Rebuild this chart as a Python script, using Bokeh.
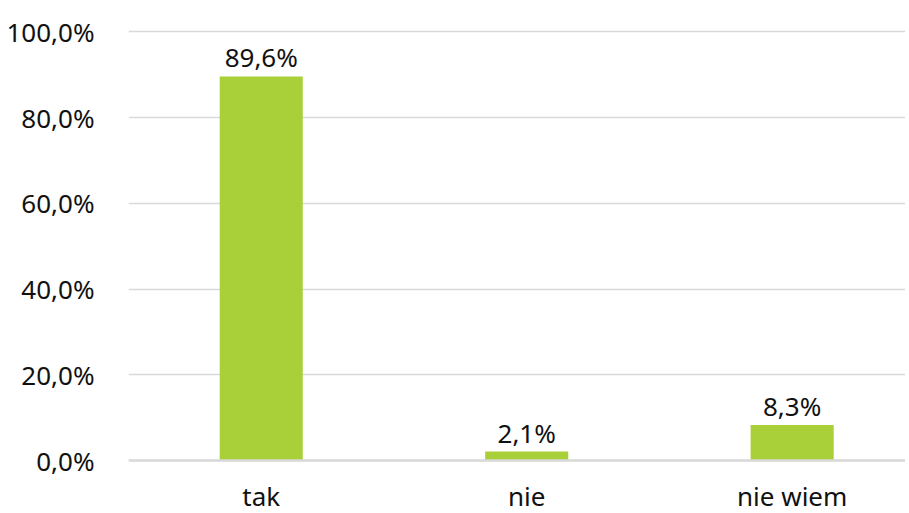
from bokeh.plotting import figure
from bokeh.models import Range1d, FixedTicker, ColumnDataSource
from bokeh.embed import file_html
from bokeh.resources import INLINE
from bokeh.core.properties import value

categories = ["tak", "nie", "nie wiem"]
values = [89.6, 2.1, 8.3]
labels = ["89,6%", "2,1%", "8,3%"]
y_ticks = [0, 20, 40, 60, 80, 100]
y_tick_labels = ["0,0%", "20,0%", "40,0%", "60,0%", "80,0%", "100,0%"]

FONT = "Noto Sans"
FS = "26px"
TXT = "#111111"

xs = list(range(len(categories)))
src = ColumnDataSource(dict(x=xs, top=values, label=labels,
                            cat=categories, base=[0] * len(xs)))

p = figure(width=905, height=513, output_backend="svg", toolbar_location=None,
           x_range=Range1d(-0.5, 2.427), y_range=Range1d(-12.35, 101),
           min_border_left=128, min_border_right=0, min_border_top=27, min_border_bottom=0)
p.outline_line_color = None
p.background_fill_color = "white"
p.border_fill_color = "white"

p.vbar(x="x", top="top", width=0.313, bottom=0, source=src,
       fill_color="#A9D039", line_color=None)
# value labels above bars
p.text(x="x", y="top", text="label", source=src, text_align="center",
       text_baseline="bottom", y_offset=-1, text_font=value(FONT),
       text_font_size=FS, text_color=TXT)
# category labels below the baseline
p.text(x="x", y="base", text="cat", source=src, text_align="center",
       text_baseline="top", y_offset=17, text_font=value(FONT),
       text_font_size=FS, text_color=TXT)

p.xgrid.grid_line_color = None
p.ygrid.grid_line_color = "#d9d9d9"
p.ygrid.grid_line_width = 1.5
p.ygrid.ticker = FixedTicker(ticks=y_ticks)

p.yaxis.ticker = FixedTicker(ticks=y_ticks)
p.yaxis.major_label_overrides = {t: l for t, l in zip(y_ticks, y_tick_labels)}
p.yaxis.axis_line_color = None
p.yaxis.major_tick_line_color = None
p.yaxis.minor_tick_line_color = None
p.yaxis.major_label_standoff = 28
p.yaxis.major_label_text_font = FONT
p.yaxis.major_label_text_font_size = FS
p.yaxis.major_label_text_color = TXT

p.xaxis.visible = False
# baseline (0%) axis line, slightly stronger than gridlines
p.hspan(y=[y_ticks[0]], line_color="#d9d9d9", line_width=2.5)

open("out.html", "w").write(file_html(p, INLINE))
